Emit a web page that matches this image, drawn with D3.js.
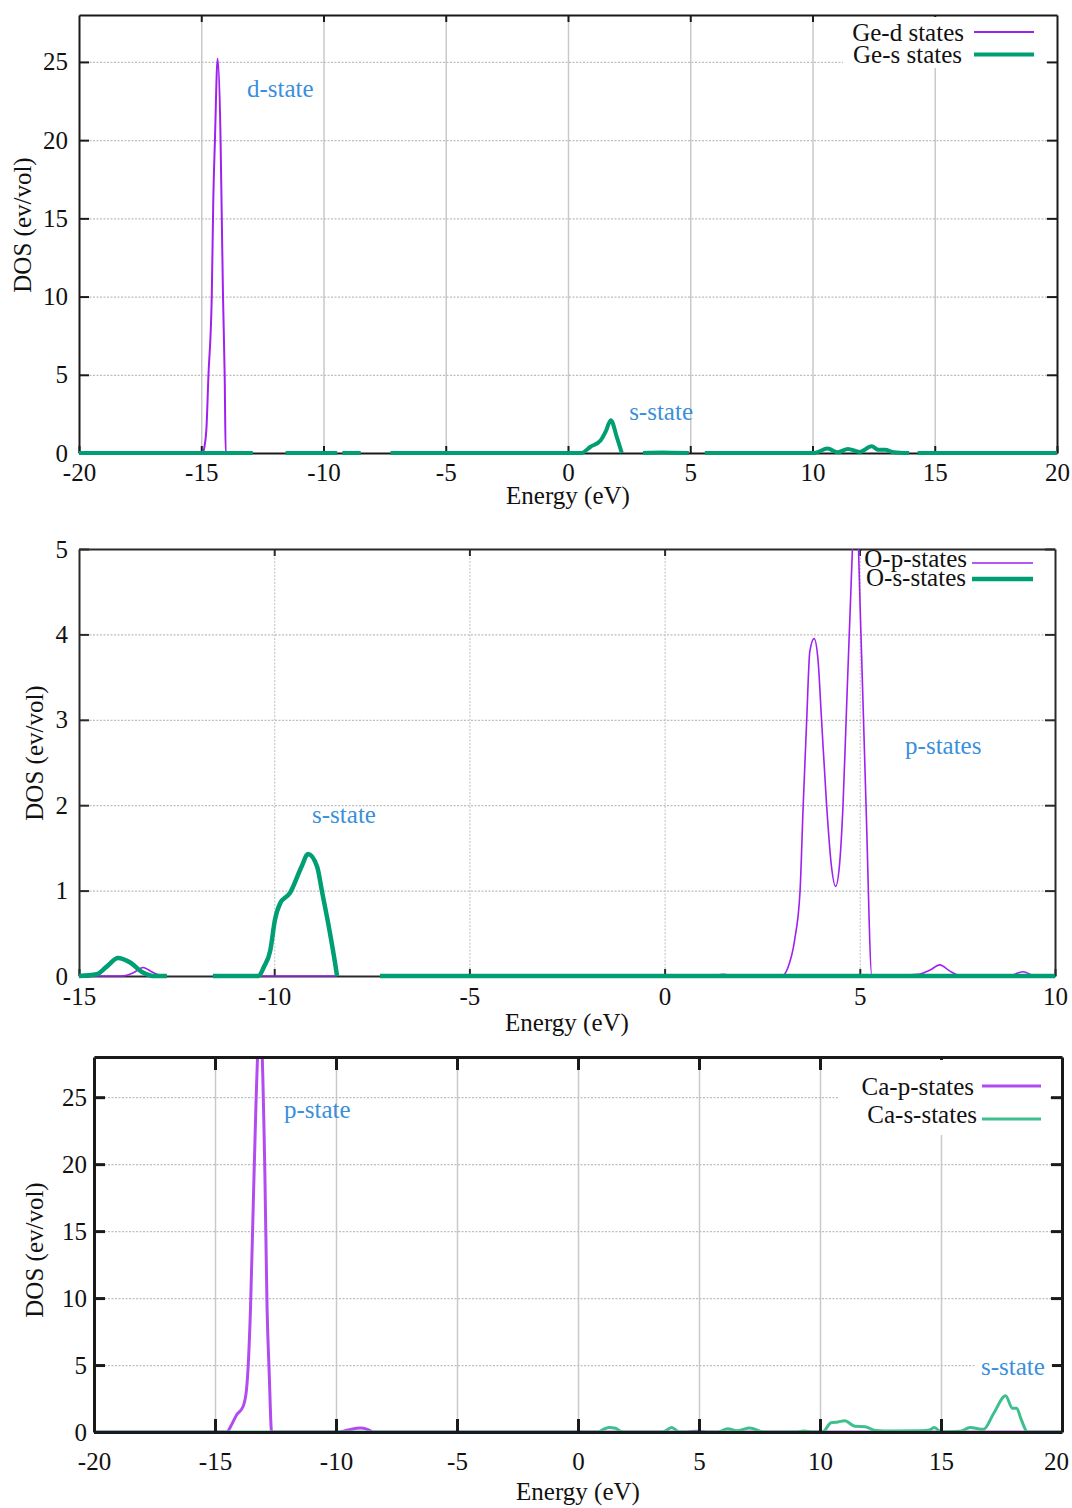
<!DOCTYPE html>
<html>
<head>
<meta charset="utf-8">
<script src="https://cdn.jsdelivr.net/npm/d3@7"></script>
<style>
body { margin: 0; background: #fff; }
svg { font-family: "Liberation Serif", "Times New Roman", serif; }
</style>
</head>
<body>
<svg width="1072" height="1508"></svg>
<script>
// ---- data (null = no data / gap in the line) ----
const geD_E   = [-20, -14.95, -14.87, -14.78, -14.71, -14.57, -14.51, -14.44, -14.33, -14.21, -14.17, -14.11, -14.04, -14.0, -12.9];
const geD_dos = [0, 0, 0.4, 1.8, 4.8, 10, 16, 20, 25.2, 20, 16, 10, 4.8, 0, 0];

const geS_E   = [-20, -12.89, -12.5, -11.55, -9.44, -9.35, -9.23, -8.48, -8.0, -7.26, 0.55, 0.92, 1.33, 1.55, 1.75, 2.0, 2.2, 2.6,
                 3.07, 3.9, 4.3, 4.94, 5.3, 5.6, 10.07, 10.62, 11.03, 11.45, 11.93, 12.42, 12.7, 12.97, 13.32, 13.95, 14.1, 14.3, 20];
const geS_dos = [0, 0, null, 0, 0, null, 0, 0, null, 0, 0, 0.4, 0.8, 1.4, 2.1, 1.0, 0, null,
                 0, 0.03, 0.02, 0, null, 0, 0, 0.28, 0.05, 0.26, 0.07, 0.43, 0.2, 0.2, 0.05, 0, null, 0, 0];

const oP_E   = [-15, -13.9, -13.6, -13.36, -13.1, -12.8, -12.75, -12.2, -11.57, -8.39, -7.8, -7.29, 1.2, 1.5, 1.8, 3.0, 3.16, 3.33, 3.47, 3.55, 3.64,
                3.72, 3.83, 3.93, 4.02, 4.15, 4.27, 4.38, 4.48, 4.57, 4.65, 4.73, 4.9, 5.03, 5.16, 5.31, 5.5, 6.5, 6.8, 7.05, 7.3, 7.6, 8.8, 9.18, 9.5, 10];
const oP_dos = [0, 0, 0.04, 0.1, 0.04, 0, 0, null, 0, 0, null, 0, 0, 0.02, 0, 0, 0.1, 0.42, 1.0, 2.0, 3.0,
                3.8, 3.95, 3.7, 3.0, 2.0, 1.3, 1.05, 1.3, 2.0, 3.0, 4.0, 5.6, 4.0, 2.0, 0, 0, 0.02, 0.07, 0.13, 0.06, 0, 0, 0.05, 0, 0];

const oS_E   = [-15, -14.55, -14.29, -14.0, -13.7, -13.36, -13.1, -12.75, -12.2, -11.57, -10.4, -10.27, -10.1, -9.98, -9.85, -9.6, -9.3,
                -9.13, -8.9, -8.78, -8.57, -8.44, -8.39, -7.8, -7.29, 10];
const oS_dos = [0, 0.02, 0.11, 0.21, 0.16, 0.04, 0, 0, null, 0, 0, 0.1, 0.3, 0.66, 0.85, 0.97, 1.28,
                1.43, 1.28, 1.0, 0.5, 0.15, 0, null, 0, 0];

const caP_E   = [-20, -14.52, -14.3, -14.11, -13.84, -13.7, -13.63, -13.53, -13.42, -13.31, -13.14, -12.94, -12.85, -12.76, -12.66,
                 -9.9, -9.5, -9.0, -8.7, -8.45, 4.5, 4.9, 5.3, 20];
const caP_dos = [0, 0, 0.6, 1.27, 1.9, 3.14, 4.9, 9.4, 16.9, 24.3, 31, 19.4, 9.4, 4.4, 0,
                 0, 0.15, 0.3, 0.2, 0, 0, 0.06, 0, 0];

const caS_E   = [-20, 0.86, 1.05, 1.28, 1.55, 1.84, 3.5, 3.87, 4.2, 5.8, 6.18, 6.56, 7.1, 7.66, 9.0, 9.34, 9.7, 10.1, 10.46, 10.75, 11.02,
                 11.44, 11.86, 12.28, 13.0, 14.2, 14.52, 14.73, 15.0, 15.78, 16.2, 16.76, 17.18, 17.67, 17.95, 18.13, 18.3, 18.58, 20];
const caS_dos = [0, 0, 0.2, 0.33, 0.28, 0, 0, 0.33, 0, 0, 0.25, 0.1, 0.3, 0, 0, 0.08, 0, 0, 0.69, 0.75, 0.84,
                 0.43, 0.4, 0.12, 0.08, 0.1, 0.15, 0.33, 0, 0.05, 0.33, 0.2, 1.4, 2.7, 1.78, 1.78, 1.0, 0, 0];

const ticksX1 = [-20, -15, -10, -5, 0, 5, 10, 15, 20];
const ticksY1 = [0, 5, 10, 15, 20, 25];
const ticksX2 = [-15, -10, -5, 0, 5, 10];
const ticksY2 = [0, 1, 2, 3, 4, 5];
const ticksX3 = [-20, -15, -10, -5, 0, 5, 10, 15, 20];
const ticksY3 = [0, 5, 10, 15, 20, 25];

const legend1 = ['Ge-d states', 'Ge-s states'];
const legend2 = ['O-p-states', 'O-s-states'];
const legend3 = ['Ca-p-states', 'Ca-s-states'];

const purple = '#a020f0',
      green = '#009e73',
      labelBlue = '#3a8fdc';

const svg = d3.select('svg');
const zip = (xs, ys) => xs.map((e, i) => [e, ys[i]]);

function drawPanel(p) {
    const g = svg.append('g');
    const x = d3.scaleLinear().domain(p.xDomain).range([p.left, p.right]);
    const y = d3.scaleLinear().domain(p.yDomain).range([p.bottom, p.top]);
    const h = p.bottom - p.top, w = p.right - p.left;

    // grid
    g.append('g')
        .attr('transform', `translate(0,${p.bottom})`)
        .call(d3.axisBottom(x).tickValues(p.xTicks.slice(1, -1)).tickSize(-h).tickFormat(''))
        .call(a => a.select('.domain').remove())
        .selectAll('line')
        .attr('stroke', '#c9c9c9').attr('stroke-width', p.vGridW)
        .attr('stroke-dasharray', p.vGridDash);
    g.append('g')
        .attr('transform', `translate(${p.left},0)`)
        .call(d3.axisLeft(y).tickValues(p.yTicks.slice(1)).tickSize(-w).tickFormat(''))
        .call(a => a.select('.domain').remove())
        .selectAll('line')
        .attr('stroke', '#bdbdbd').attr('stroke-width', 1.2)
        .attr('stroke-dasharray', '2,1.5');

    const frame = () => {
        const f = g.append('g');
        f.append('g').attr('transform', `translate(${p.left},0)`)
            .call(d3.axisLeft(y).tickValues(p.yTicks).tickSize(-p.tickL).tickSizeOuter(0)
                .tickPadding(p.padY).tickFormat(d => String(d)));
        f.append('g').attr('transform', `translate(${p.right},0)`)
            .call(d3.axisRight(y).tickValues(p.yTicks.slice(1)).tickSize(-p.tickL).tickSizeOuter(0).tickFormat(''));
        const bottomAxis = f.append('g').attr('transform', `translate(0,${p.bottom})`)
            .call(d3.axisBottom(x).tickValues(p.xTicks).tickSize(-p.tickB).tickSizeOuter(0)
                .tickPadding(p.padX).tickFormat(d => String(d)));
        bottomAxis.selectAll('text').filter((d, i, n) => i === n.length - 1).attr('dx', p.lastLabelDx || 0);
        f.append('g').attr('transform', `translate(0,${p.top})`)
            .call(d3.axisTop(x).tickValues(p.xTicks.slice(1, -1)).tickSize(-p.tickB).tickSizeOuter(0).tickFormat(''));
        f.selectAll('g').attr('font-family', null).attr('font-size', null);
        f.selectAll('path.domain, line').attr('stroke', p.frameColor).attr('stroke-width', p.frameW);
        f.selectAll('text').attr('font-size', 25).attr('fill', '#111');
    };

    if (!p.axesOnTop) frame();

    // curves
    const clipId = 'clip' + p.id;
    svg.append('clipPath').attr('id', clipId)
        .append('rect').attr('x', p.left).attr('y', p.top)
        .attr('width', w).attr('height', h + 6);
    const line = d3.line()
        .defined(d => d[1] != null)
        .x(d => x(d[0])).y(d => y(d[1]))
        .curve(d3.curveMonotoneX);
    g.append('g').attr('clip-path', `url(#${clipId})`)
        .selectAll('path').data(p.series).join('path')
        .attr('d', s => line(s.points))
        .attr('fill', 'none')
        .attr('stroke', s => s.color)
        .attr('stroke-width', s => s.width)
        .attr('stroke-linejoin', 'round');

    if (p.axesOnTop) frame();

    // legend
    const lg = g.append('g');
    lg.append('rect').attr('x', p.legBox[0]).attr('y', p.legBox[1])
        .attr('width', p.legBox[2]).attr('height', p.legBox[3]).attr('fill', '#fff');
    p.series.forEach((s, i) => {
        lg.append('text').attr('x', s.legTextX).attr('y', s.legY)
            .attr('text-anchor', 'end').attr('font-size', 25).attr('fill', '#111')
            .text(s.name);
        lg.append('line').attr('x1', p.legLine[0]).attr('x2', p.legLine[1])
            .attr('y1', s.legLineY).attr('y2', s.legLineY)
            .attr('stroke', s.color).attr('stroke-width', s.width);
    });

    // state labels
    p.notes.forEach(n => {
        if (n.box) {
            g.append('rect').attr('x', x(n.e) - 5).attr('y', y(n.v) - 19)
                .attr('width', 76).attr('height', 24).attr('fill', '#fff');
        }
        g.append('text').attr('x', x(n.e)).attr('y', y(n.v))
            .attr('font-size', 25).attr('fill', labelBlue).text(n.text);
    });

    // axis titles
    g.append('text').attr('x', (p.left + p.right) / 2).attr('y', p.xTitleY)
        .attr('text-anchor', 'middle').attr('font-size', 25).attr('fill', '#111')
        .text('Energy (eV)');
    g.append('text')
        .attr('transform', `translate(${p.yTitleX},${p.yTitleMid}) rotate(-90)`)
        .attr('text-anchor', 'middle').attr('font-size', 25).attr('fill', '#111')
        .text('DOS (ev/vol)');
}

drawPanel({
    id: 1, left: 79, right: 1057, top: 15, bottom: 453,
    xDomain: [-20, 20], yDomain: [0, 28], xTicks: ticksX1, yTicks: ticksY1,
    vGridW: 1.5, vGridDash: null,
    tickL: 10, tickB: 7, padY: 11, padX: 10,
    frameColor: '#1a1a1a', frameW: 2, axesOnTop: false,
    series: [
        { name: legend1[0], points: zip(geD_E, geD_dos), color: purple, width: 2,
          legTextX: 964, legY: 41, legLineY: 32 },
        { name: legend1[1], points: zip(geS_E, geS_dos), color: green, width: 4,
          legTextX: 962, legY: 63, legLineY: 54.5 }
    ],
    legBox: [843, 17, 203, 51], legLine: [974, 1034],
    notes: [{ text: 'd-state', e: -13.13, v: 22.76 }, { text: 's-state', e: 2.5, v: 2.11 }],
    xTitleY: 504, yTitleX: 31, yTitleMid: 225
});

drawPanel({
    id: 2, left: 79, right: 1055, top: 549, bottom: 976,
    xDomain: [-15, 10], yDomain: [0, 5], xTicks: ticksX2, yTicks: ticksY2,
    vGridW: 1.2, vGridDash: '2,1.5',
    tickL: 10, tickB: 7, padY: 11, padX: 11,
    frameColor: '#2a2a2a', frameW: 2, axesOnTop: false,
    series: [
        { name: legend2[0], points: zip(oP_E, oP_dos), color: purple, width: 1.6,
          legTextX: 967, legY: 567, legLineY: 563 },
        { name: legend2[1], points: zip(oS_E, oS_dos), color: green, width: 4.5,
          legTextX: 966, legY: 586, legLineY: 579 }
    ],
    legBox: [861, 551, 190, 40], legLine: [972, 1033],
    notes: [{ text: 'p-states', e: 6.16, v: 2.6 }, { text: 's-state', e: -9.03, v: 1.79 }],
    xTitleY: 1031, yTitleX: 43, yTitleMid: 753
});

drawPanel({
    id: 3, left: 94, right: 1062, top: 1057, bottom: 1432,
    xDomain: [-20, 20], yDomain: [0, 28], xTicks: ticksX3, yTicks: ticksY3,
    vGridW: 1.5, vGridDash: null,
    tickL: 11, tickB: 13, padY: 7, padX: 20, lastLabelDx: -6,
    frameColor: '#1a1a1a', frameW: 3, axesOnTop: true,
    series: [
        { name: legend3[0], points: zip(caP_E, caP_dos), color: '#b24cf0', width: 3,
          legTextX: 974, legY: 1095, legLineY: 1086 },
        { name: legend3[1], points: zip(caS_E, caS_dos), color: '#3fbf8e', width: 3,
          legTextX: 977, legY: 1123, legLineY: 1119 }
    ],
    legBox: [838, 1060, 212, 75], legLine: [982, 1041],
    notes: [{ text: 'p-state', e: -12.15, v: 23.45 }, { text: 's-state', e: 16.65, v: 4.26, box: true }],
    xTitleY: 1500, yTitleX: 43, yTitleMid: 1250
});
</script>
</body>
</html>
